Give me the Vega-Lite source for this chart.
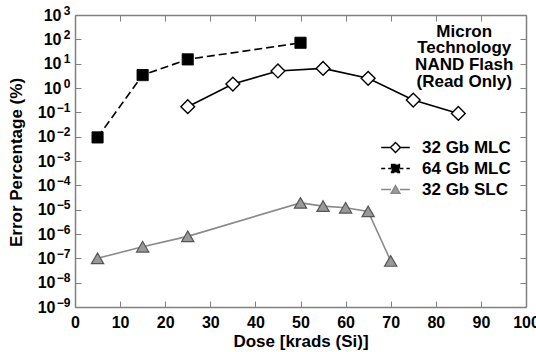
{
  "$schema": "https://vega.github.io/schema/vega-lite/v6.json",
  "autosize": "none",
  "width": 451,
  "height": 292,
  "padding": {"left": 75, "top": 15, "right": 10, "bottom": 45},
  "background": "white",
  "config": {
    "view": {"stroke": null},
    "font": "Liberation Sans",
    "axis": {
      "domainColor": "#808080",
      "domainWidth": 1.5,
      "tickColor": "#808080",
      "tickWidth": 1,
      "tickSize": -6,
      "grid": false,
      "labelFlush": false,
      "labelOverlap": false,
      "labelFont": "Liberation Sans",
      "labelFontWeight": "bold",
      "labelFontSize": 16,
      "labelColor": "black",
      "titleFont": "Liberation Sans",
      "titleFontWeight": "bold",
      "titleFontSize": 17,
      "titleColor": "black"
    }
  },
  "data": {
    "values": [
      {"series": "32 Gb MLC", "dose": 25, "err": 0.17},
      {"series": "32 Gb MLC", "dose": 35, "err": 1.45},
      {"series": "32 Gb MLC", "dose": 45, "err": 5.0},
      {"series": "32 Gb MLC", "dose": 55, "err": 6.4},
      {"series": "32 Gb MLC", "dose": 65, "err": 2.5},
      {"series": "32 Gb MLC", "dose": 75, "err": 0.32},
      {"series": "32 Gb MLC", "dose": 85, "err": 0.09},
      {"series": "64 Gb MLC", "dose": 5, "err": 0.0093},
      {"series": "64 Gb MLC", "dose": 15, "err": 3.4},
      {"series": "64 Gb MLC", "dose": 25, "err": 15},
      {"series": "64 Gb MLC", "dose": 50, "err": 72},
      {"series": "32 Gb SLC", "dose": 5, "err": 1.0e-7},
      {"series": "32 Gb SLC", "dose": 15, "err": 3.0e-7},
      {"series": "32 Gb SLC", "dose": 25, "err": 8.0e-7},
      {"series": "32 Gb SLC", "dose": 50, "err": 1.9e-5},
      {"series": "32 Gb SLC", "dose": 55, "err": 1.4e-5},
      {"series": "32 Gb SLC", "dose": 60, "err": 1.2e-5},
      {"series": "32 Gb SLC", "dose": 65, "err": 8.5e-6},
      {"series": "32 Gb SLC", "dose": 70, "err": 7.8e-8}
    ]
  },
  "resolve": {"axis": {"x": "independent", "y": "independent"}},
  "layer": [
    {
      "mark": {"type": "rule", "opacity": 0},
      "encoding": {
        "x": {"field": "dose", "type": "quantitative", "scale": {"domain": [0, 100], "nice": false},
              "axis": {"orient": "top", "labels": false, "title": null, "values": [0,10,20,30,40,50,60,70,80,90,100]}},
        "y": {"field": "err", "type": "quantitative", "scale": {"type": "log", "domain": [1e-9, 1000], "nice": false},
              "axis": {"orient": "right", "labels": false, "title": null, "values": [1e-9,1e-8,1e-7,1e-6,1e-5,1e-4,1e-3,1e-2,1e-1,1,10,100,1000]}}
      }
    },
    {
      "mark": {"type": "rule", "opacity": 0},
      "encoding": {
        "x": {"field": "dose", "type": "quantitative", "scale": {"domain": [0, 100], "nice": false}, "axis": null},
        "y": {"field": "err", "type": "quantitative", "scale": {"type": "log", "domain": [1e-9, 1000], "nice": false},
              "axis": {"orient": "left", "title": null, "domain": false, "ticks": false, "labelPadding": 5,
                       "labelFontSize": 12, "labelOffset": -5, "labelBaseline": "middle", "labelAlign": "right",
                       "values": [1e-9,1e-8,1e-7,1e-6,1e-5,1e-4,1e-3,1e-2,1e-1,1,10,100,1000],
                       "labelExpr": "(round(log(datum.value)/LN10) < 0 ? '−' : '') + abs(round(log(datum.value)/LN10))"}}
      }
    },
    {
      "data": {"values": [{"note": "maker"}]},
      "mark": {"type": "text", "font": "Liberation Sans", "fontWeight": "bold", "fontSize": 17, "align": "center", "baseline": "middle",
               "lineHeight": 16.7, "color": "black", "text": ["Micron", "Technology", "NAND Flash", "(Read Only)"]},
      "encoding": {
        "x": {"datum": 86.3, "type": "quantitative", "axis": null},
        "y": {"datum": 206, "type": "quantitative", "axis": null}
      }
    },
    {
      "encoding": {
        "x": {"field": "dose", "type": "quantitative", "scale": {"domain": [0, 100], "nice": false},
              "axis": {"orient": "bottom", "title": "Dose [krads (Si)]", "values": [0,10,20,30,40,50,60,70,80,90,100],
                       "labelPadding": 13, "titleX": 225.5, "titleY": 34, "titleBaseline": "middle", "titleAlign": "center"}},
        "y": {"field": "err", "type": "quantitative", "scale": {"type": "log", "domain": [1e-9, 1000], "nice": false},
              "axis": {"orient": "left", "title": "Error Percentage (%)", "titleX": -59, "titleY": 147, "titleAngle": -90,
                       "titleBaseline": "middle", "titleAlign": "center",
                       "labelPadding": {"condition": {"test": "datum.value < 1", "value": 26}, "value": 20},
                       "labelBaseline": "middle", "labelAlign": "right",
                       "values": [1e-9,1e-8,1e-7,1e-6,1e-5,1e-4,1e-3,1e-2,1e-1,1,10,100,1000],
                       "labelExpr": "'10'"}}
      },
      "layer": [
        {
          "transform": [{"filter": "datum.series === '64 Gb MLC'"}],
          "mark": {"type": "line", "color": "black", "strokeWidth": 1.6, "strokeDash": [8, 4],
                   "point": {"shape": "square", "size": 125, "filled": true, "fill": "black", "stroke": "black", "strokeWidth": 1, "strokeDash": [1, 0]}}
        },
        {
          "transform": [{"filter": "datum.series === '32 Gb MLC'"}],
          "mark": {"type": "line", "color": "black", "strokeWidth": 1.6,
                   "point": {"shape": "diamond", "size": 190, "filled": true, "fill": "white", "stroke": "black", "strokeWidth": 1.4}}
        },
        {
          "transform": [{"filter": "datum.series === '32 Gb SLC'"}],
          "mark": {"type": "line", "color": "#8a8a8a", "strokeWidth": 1.6,
                   "point": {"shape": "triangle-up", "size": 150, "filled": true, "fill": "#999999", "stroke": "#555555", "strokeWidth": 1.2}}
        },
        {
          "mark": {"type": "point", "filled": true, "opacity": 0, "size": 196, "strokeWidth": 1.4},
          "encoding": {
            "shape": {"field": "series", "type": "nominal",
                      "scale": {"domain": ["32 Gb MLC", "64 Gb MLC", "32 Gb SLC"],
                                "range": ["M-2.86,0H-1M1,0H2.86M-1,0L0,-1L1,0L0,1Z",
                                          "M-2.86,0H-0.79M0.79,0H2.86M-0.79,-0.79H0.79V0.79H-0.79Z",
                                          "M-2.86,0H-0.9M0.9,0H2.86M0,-0.78L-0.9,0.78L0.9,0.78Z"]},
                      "legend": {"orient": "none", "legendX": 312, "legendY": 124, "title": null,
                                 "labelFont": "Liberation Sans", "labelFontWeight": "bold", "labelFontSize": 17, "labelColor": "black",
                                 "labelOffset": 18, "rowPadding": 3, "padding": 0, "symbolStrokeWidth": 1.4,
                                 "symbolOpacity": 1,
                                 "encode": {"symbols": {
                                   "fillOpacity": {"value": 1},
                                   "fill": {"value": {"expr": "datum.value === '64 Gb MLC' ? 'black' : (datum.value === '32 Gb SLC' ? '#999999' : 'white')"}}
                                 }}}},
            "fill": {"field": "series", "type": "nominal",
                     "scale": {"domain": ["32 Gb MLC", "64 Gb MLC", "32 Gb SLC"], "range": ["white", "black", "#999999"]}},
            "stroke": {"field": "series", "type": "nominal",
                       "scale": {"domain": ["32 Gb MLC", "64 Gb MLC", "32 Gb SLC"], "range": ["black", "black", "#888888"]}},
            "strokeDash": {"field": "series", "type": "nominal",
                           "scale": {"domain": ["32 Gb MLC", "64 Gb MLC", "32 Gb SLC"], "range": [[1, 0], [4, 3], [1, 0]]}}
          }
        }
      ]
    }
  ]
}
